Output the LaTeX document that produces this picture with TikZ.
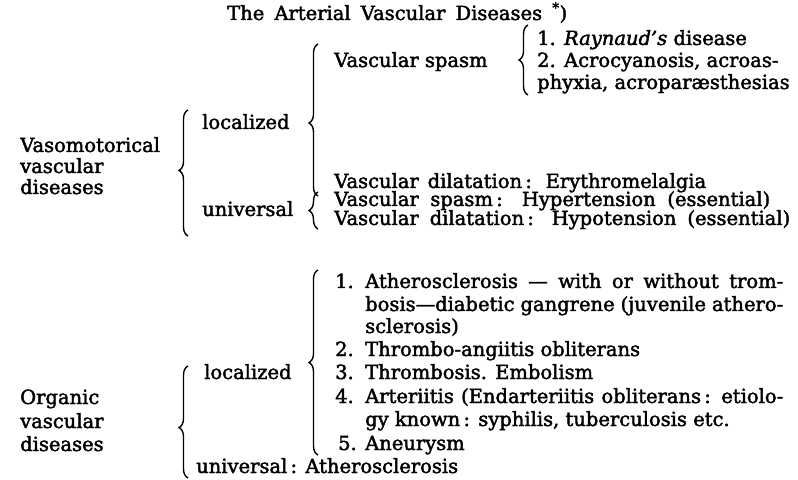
\documentclass[tikz,border=0pt]{standalone}
\usepackage{fontspec}
\setmainfont{DejaVu Serif}[FakeBold=2]
\usetikzlibrary{decorations.pathreplacing}

\begin{document}
\begin{tikzpicture}[x=1bp, y=-1bp,
  every node/.style={font=\fontsize{19.5bp}{23bp}\selectfont, inner sep=0pt, anchor=base west},
  curly/.style={decorate, decoration={brace, amplitude=9bp, aspect=#1}, line width=1.4bp},
  curly/.default=0.5]
  \useasboundingbox (0,0) rectangle (798,480);
  % heading
  \node (title) at (227,20) {\makebox[340bp][s]{The Arterial Vascular Diseases \textsuperscript{*})}};
  % vasomotorical group
  \node (vaso1) at (20,152) {Vasomotorical};
  \node (vaso2) at (20,173) {vascular};
  \node (vaso3) at (20,194) {diseases};
  \node (vloc) at (202,129) {localized};
  \node (vuni) at (202,216) {universal};
  \node (vsp) at (334,67) {Vascular spasm};
  \node (ray1) at (537,45) {1. \emph{Raynaud's} disease};
  \node (ray2) at (537,67) {2. Acrocyanosis, acroas-};
  \node (ray3) at (537,89) {phyxia, acroparæsthesias};
  \node (vdil) at (334,188) {\makebox[372bp][s]{Vascular dilatation\,: Erythromelalgia}};
  \node (usp) at (334,206) {\makebox[436bp][s]{Vascular spasm\,: Hypertension (essential)}};
  \node (udil) at (334,225) {\makebox[456bp][s]{Vascular dilatation\,: Hypotension (essential)}};
  \draw[curly] (528,95) -- (528,25);
  \draw[curly=0.48] (318,196) -- (318,44);
  \draw[curly] (318,229) -- (318,192);
  \draw[curly=0.52] (188,236) -- (188,110);
  % organic group
  \node (org1) at (20,404) {Organic};
  \node (org2) at (20,428) {vascular};
  \node (org3) at (20,451) {diseases};
  \node (oloc) at (204,379) {localized};
  \node (ath1) at (335,288) {\makebox[30bp][l]{1.}\makebox[418bp][s]{Atherosclerosis — with or without trom-}};
  \node (ath2) at (365,311) {\makebox[418bp][s]{bosis—diabetic gangrene (juvenile athero-}};
  \node (ath3) at (365,333) {sclerosis)};
  \node (thr1) at (335,356) {\makebox[30bp][l]{2.}Thrombo-angiitis obliterans};
  \node (thr2) at (335,379) {\makebox[30bp][l]{3.}Thrombosis. Embolism};
  \node (art1) at (335,403) {\makebox[30bp][l]{4.}\makebox[418bp][s]{Arteriitis (Endarteriitis obliterans\,: etiolo-}};
  \node (art2) at (365,426) {gy known\,: syphilis, tuberculosis etc.};
  \node (aneu) at (338,450) {\makebox[27bp][l]{5.}Aneurysm};
  \node (ouni) at (196,473) {universal\,: Atherosclerosis};
  \draw[curly] (318,455) -- (318,270);
  \draw[curly=0.45] (188,478) -- (188,366);
\end{tikzpicture}
\end{document}
